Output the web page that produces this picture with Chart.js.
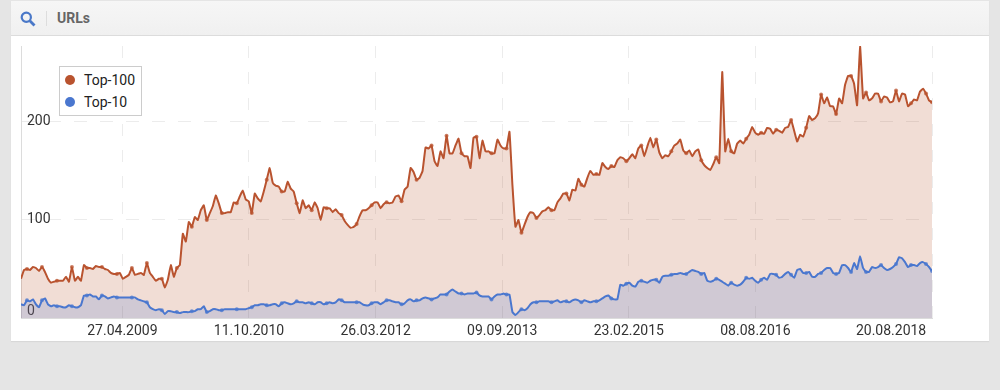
<!DOCTYPE html>
<html>
<head>
<meta charset="utf-8">
<title>URLs</title>
<script src="https://cdn.jsdelivr.net/npm/chart.js@4"></script>
<style>
  html, body { margin: 0; padding: 0; background: #e5e5e5; }
  body { width: 1000px; height: 390px; position: relative; overflow: hidden; font-family: Roboto, sans-serif; }
  .card { position: absolute; left: 11px; top: 1px; width: 978px; height: 340px; background: #fff; box-shadow: 0 1px 1px #d8d8d8; }
  .head { height: 34px; background: linear-gradient(#f6f6f6, #f0f0f0); border-bottom: 1px solid #dcdcdc; }
  .head svg { position: absolute; left: 9px; top: 10px; }
  .head i { position: absolute; left: 35px; top: 10px; width: 1px; height: 15px; background: #ddd; }
  .head b { position: absolute; left: 46px; top: 9px; font-size: 14px; line-height: 17px; color: #666; }
  #wrap { position: absolute; left: 0; top: 0; width: 1000px; height: 390px; }
  #legend { position: absolute; left: 59px; top: 66px; width: 81px; height: 48px; border: 1px solid #ccc; background: #fff; font-size: 14px; color: #222; }
  #legend div { position: absolute; left: 24px; line-height: 18px; white-space: nowrap; }
  #legend span { position: absolute; left: -19px; top: 4px; width: 10px; height: 10px; border-radius: 50%; }
</style>
</head>
<body>
<div class="card">
  <div class="head">
    <svg width="16" height="16" viewBox="0 0 16 16"><circle cx="6.3" cy="6.3" r="4.6" fill="none" stroke="#4a78c8" stroke-width="2.2"/><line x1="9.8" y1="9.8" x2="14.5" y2="14.5" stroke="#4a78c8" stroke-width="2.8"/></svg>
    <i></i><b>URLs</b>
  </div>
</div>
<div id="wrap"><canvas id="chart" width="1000" height="390"></canvas></div>
<div id="legend"></div>
<script>
var firstDate = "26.02.2008";
var lastDate = "20.08.2018";
var tickLabels = ["27.04.2009", "11.10.2010", "26.03.2012", "09.09.2013", "23.02.2015", "08.08.2016", "20.08.2018"];
var yTicks = [100, 200];

var top100 = [
  40,49,50,49,52,51,48,52,47,40,
  36,37,38,38,38,42,37,52,38,42,
  38,54,51,51,50,53,52,52,50,49,
  46,45,45,46,40,42,44,51,44,45,
  46,44,56,46,42,38,40,40,31,39,
  54,42,51,54,86,78,98,93,103,100,
  110,115,100,107,114,125,117,107,107,108,
  108,118,117,124,130,121,119,107,127,122,
  119,129,141,153,138,135,134,129,129,139,
  132,129,117,107,120,112,115,110,118,112,
  100,113,112,112,108,111,107,105,99,95,
  92,93,96,104,110,110,112,115,118,118,
  112,116,118,117,118,124,125,119,131,134,
  153,149,141,143,150,174,173,176,160,155,
  170,163,186,168,168,176,183,168,165,165,
  153,184,185,163,181,170,170,168,168,182,
  176,173,173,190,135,93,100,87,95,103,
  108,107,102,105,109,110,113,110,110,118,
  122,127,127,120,131,130,142,136,134,143,
  150,146,147,146,158,154,152,155,154,161,
  164,163,160,163,167,163,173,176,165,175,
  184,174,182,169,163,166,165,170,176,178,
  182,171,168,171,165,170,172,161,156,153,
  151,157,164,158,251,170,183,170,168,178,
  181,178,183,187,195,189,187,189,188,194,
  193,188,192,191,189,194,195,202,191,180,
  187,185,194,206,202,204,209,228,219,225,
  216,216,208,224,219,238,247,247,239,217,
  277,224,230,222,224,229,229,221,226,225,
  220,221,232,221,229,228,216,219,223,222,
  231,234,229,222,220
];

var top10 = [
  14,13,18,17,19,14,11,18,20,14,
  12,13,12,12,11,11,13,12,11,11,
  13,23,23,24,22,22,19,23,22,20,
  21,22,21,21,21,21,21,21,21,19,
  18,17,16,11,9,8,9,8,4,7,
  7,6,6,5,6,6,6,7,7,9,
  9,12,6,7,9,9,8,8,9,9,
  9,9,9,9,9,9,10,11,13,13,
  14,14,13,13,14,14,12,15,16,15,
  14,15,17,16,16,15,16,15,14,16,
  16,14,15,16,15,16,19,18,16,16,
  16,16,16,16,14,13,13,15,16,16,
  14,16,18,18,17,16,16,14,15,18,
  19,17,18,18,20,21,20,19,20,21,
  24,24,24,27,29,27,25,25,24,25,
  25,25,26,23,22,22,22,19,22,24,
  24,25,24,24,6,3,6,9,8,10,
  14,16,16,17,17,17,17,16,17,18,
  16,17,17,16,18,19,18,16,18,17,
  16,17,17,18,20,22,23,20,19,19,
  34,33,35,36,33,32,37,38,37,36,
  38,39,39,36,42,43,43,44,45,45,
  46,45,45,47,49,48,47,45,46,38,
  37,38,40,39,37,35,33,36,34,33,
  34,37,41,40,41,38,36,39,41,39,
  45,45,44,41,42,45,47,44,41,49,
  50,46,46,47,42,42,45,46,49,51,
  51,46,45,46,54,54,51,47,56,50,
  63,51,47,47,52,51,52,54,51,49,
  50,52,55,62,61,57,52,54,54,53,
  56,57,55,52,48
];

function dayOf(s) {
  var p = s.split(".");
  return Date.UTC(+p[2], +p[1] - 1, +p[0]) / 864e5;
}

var startDay = dayOf(firstDate);
var endDay = dayOf(lastDate);
var step = (endDay - startDay) / (top100.length - 1);
var tickDays = tickLabels.map(dayOf);
// last label sits left of its grid line so it ends at the plot edge
var lastLabelDay = endDay - 172;

function points(values) {
  return values.map(function (v, i) { return { x: startDay + i * step, y: v }; });
}

function dotRadius(ctx) {
  var n = ctx.dataset.data.length;
  return (ctx.dataIndex % 5 === 2 || ctx.dataIndex === n - 1) ? 2 : 0;
}

var gridColor = "#ececec";
var axisColor = "#dcdcdc";
var redLine = "#b9532f";
var blueLine = "#4a77cf";

var chart = new Chart(document.getElementById("chart"), {
  type: "line",
  data: {
    datasets: [
      {
        label: "Top-100",
        data: points(top100),
        borderColor: redLine,
        backgroundColor: "rgba(185,83,47,.2)",
        pointBackgroundColor: "rgba(185,83,47,.75)",
        pointBorderWidth: 0,
        pointRadius: dotRadius,
        borderWidth: 2,
        tension: 0.1,
        fill: "origin",
        order: 2
      },
      {
        label: "Top-10",
        data: points(top10),
        borderColor: blueLine,
        backgroundColor: "rgba(74,119,207,.2)",
        pointBackgroundColor: "rgba(74,119,207,.75)",
        pointBorderWidth: 0,
        pointRadius: dotRadius,
        borderWidth: 2,
        tension: 0.1,
        fill: "origin",
        order: 1
      }
    ]
  },
  options: {
    responsive: false,
    animation: false,
    layout: { padding: { left: 21, top: 46, right: 68, bottom: 0 } },
    plugins: { legend: { display: false }, tooltip: { enabled: false } },
    scales: {
      x: {
        type: "linear",
        min: startDay,
        max: endDay,
        afterBuildTicks: function (axis) {
          axis.ticks = tickDays.concat(lastLabelDay).map(function (d) { return { value: d }; });
        },
        afterFit: function (axis) { axis.height = 72; },
        grid: {
          drawTicks: false,
          color: function (ctx) {
            return ctx.tick && ctx.tick.value === lastLabelDay ? "transparent" : gridColor;
          }
        },
        border: { color: axisColor, dash: [12, 14] },
        ticks: {
          autoSkip: false,
          maxRotation: 0,
          padding: 5,
          color: "#333",
          font: { family: "Roboto", size: 14 },
          callback: function (v) {
            if (v === lastLabelDay) return tickLabels[tickLabels.length - 1];
            if (v === endDay) return "";
            return tickLabels[tickDays.indexOf(v)];
          }
        }
      },
      y: {
        min: 0,
        max: 277.5,
        afterBuildTicks: function (axis) {
          // the zero label is lifted above the baseline, so it gets its own tick
          axis.ticks = [{ value: 7 }].concat(yTicks.map(function (v) { return { value: v }; }));
        },
        afterFit: function (axis) { axis.width = 0; },
        grid: {
          drawTicks: false,
          color: function (ctx) {
            return ctx.tick && ctx.tick.value === 7 ? "transparent" : gridColor;
          }
        },
        border: { color: axisColor, dash: [13, 13] },
        ticks: {
          mirror: true,
          padding: 6,
          color: "#333",
          font: { family: "Roboto", size: 14 },
          callback: function (v) { return v === 7 ? "0" : String(v); }
        }
      }
    }
  }
});

// legend box floats over the plot
var legend = document.getElementById("legend");
chart.data.datasets.forEach(function (ds, i) {
  var row = document.createElement("div");
  row.style.top = (4 + i * 22) + "px";
  row.innerHTML = '<span style="background:' + ds.borderColor + '"></span>' + ds.label;
  legend.appendChild(row);
});
</script>
</body>
</html>
